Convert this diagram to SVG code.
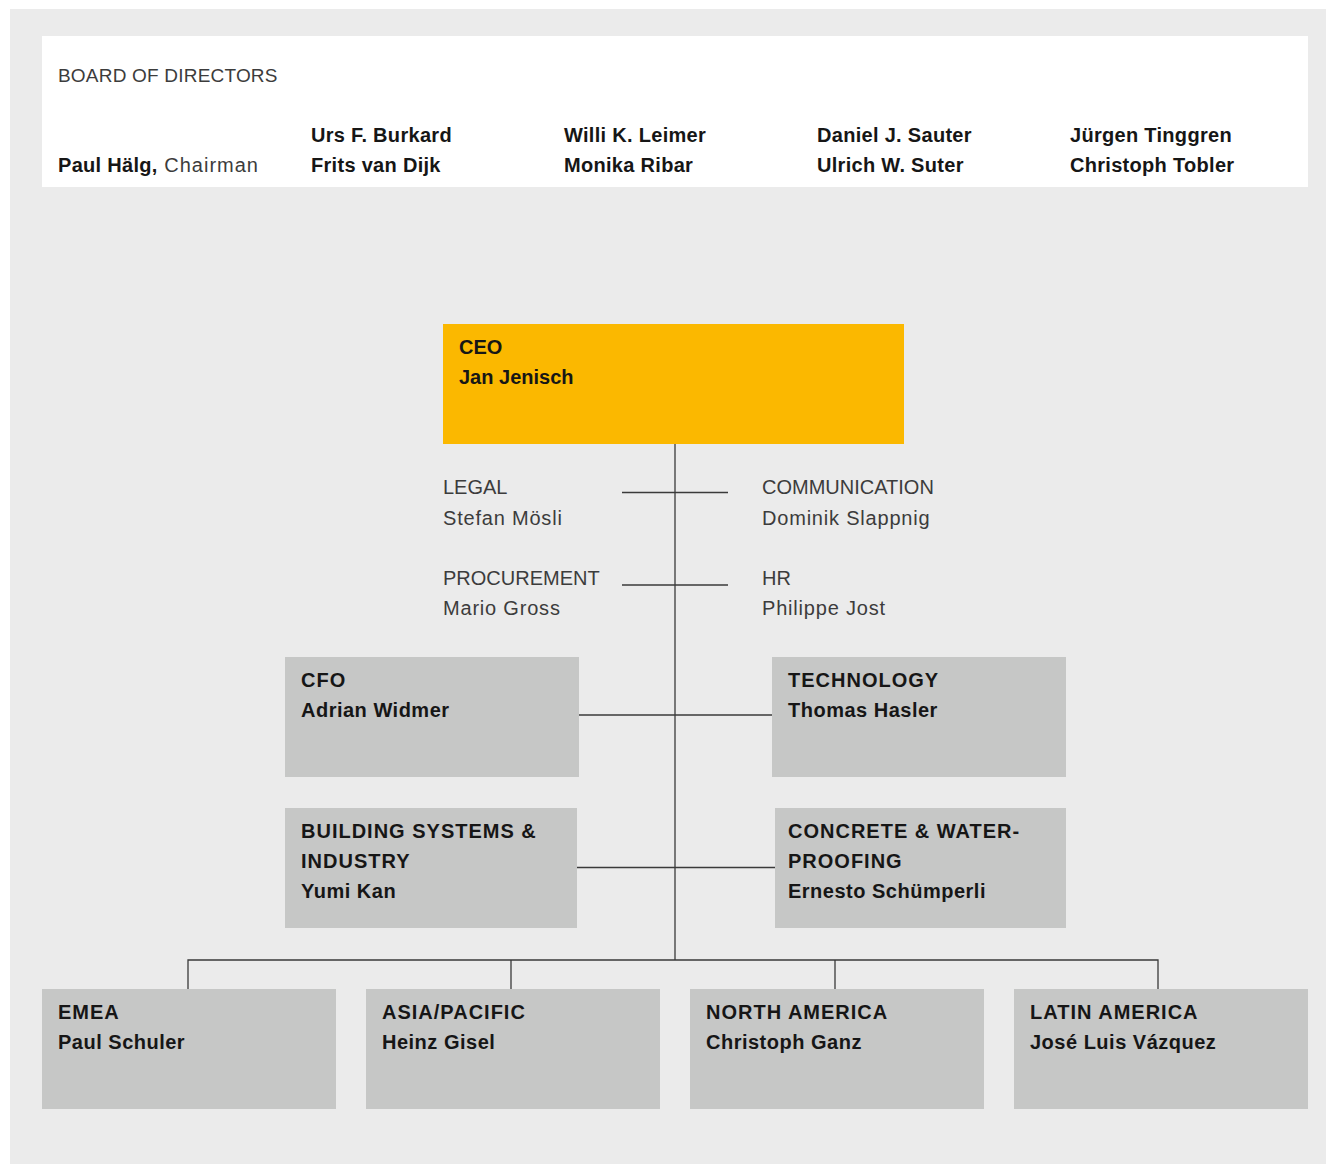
<svg xmlns="http://www.w3.org/2000/svg" width="1326" height="1164" viewBox="0 0 1326 1164">
<style>
text{font-family:"Liberation Sans","Noto Sans",Arial,sans-serif;font-size:20px}
.b{font-weight:bold;fill:#161616}
.l{fill:#3c3c3c}
.ln2{letter-spacing:0.8px}
.bn{letter-spacing:0.3px}
.t{letter-spacing:1px}
.n{letter-spacing:0.5px}
.box{fill:#c6c7c6}
.ln{stroke:#3a3a3a;stroke-width:1.3;fill:none}
</style>
<rect x="0" y="0" width="1326" height="1164" fill="#ffffff"/>
<rect x="10" y="9" width="1316" height="1155" fill="#ebebeb"/>
<g id="board">
<rect x="42" y="36" width="1266" height="151" fill="#ffffff"/>
<text x="58" y="82" class="l" style="font-size:19px;letter-spacing:0.2px">BOARD OF DIRECTORS</text>
<text x="58" y="172" class="b bn">Paul Hälg,<tspan class="l" style="font-weight:normal;letter-spacing:1px"> Chairman</tspan></text>
<text x="311" y="142" class="b bn">Urs F. Burkard</text>
<text x="311" y="172" class="b bn">Frits van Dijk</text>
<text x="564" y="142" class="b bn">Willi K. Leimer</text>
<text x="564" y="172" class="b bn">Monika Ribar</text>
<text x="817" y="142" class="b bn">Daniel J. Sauter</text>
<text x="817" y="172" class="b bn">Ulrich W. Suter</text>
<text x="1070" y="142" class="b bn">Jürgen Tinggren</text>
<text x="1070" y="172" class="b bn">Christoph Tobler</text>
</g>
<g id="connectors">
<line class="ln" x1="675" y1="444" x2="675" y2="960"/>
<line class="ln" x1="622" y1="492.5" x2="728" y2="492.5"/>
<line class="ln" x1="622" y1="585" x2="728" y2="585"/>
<line class="ln" x1="579" y1="715" x2="772" y2="715"/>
<line class="ln" x1="577" y1="867.5" x2="775" y2="867.5"/>
<polyline class="ln" points="188,989 188,960 1158,960 1158,989"/>
<line class="ln" x1="511" y1="960" x2="511" y2="989"/>
<line class="ln" x1="835" y1="960" x2="835" y2="989"/>
</g>
<g id="ceo">
<rect x="443" y="324" width="461" height="120" fill="#fbb800"/>
<text x="459" y="354" class="b">CEO</text>
<text x="459" y="384" class="b">Jan Jenisch</text>
</g>
<g id="legal">
<text x="443" y="494" class="l">LEGAL</text>
<text x="443" y="525" class="l ln2">Stefan Mösli</text>
</g>
<g id="communication">
<text x="762" y="494" class="l">COMMUNICATION</text>
<text x="762" y="525" class="l ln2">Dominik Slappnig</text>
</g>
<g id="procurement">
<text x="443" y="585" class="l">PROCUREMENT</text>
<text x="443" y="615" class="l ln2">Mario Gross</text>
</g>
<g id="hr">
<text x="762" y="585" class="l">HR</text>
<text x="762" y="615" class="l ln2">Philippe Jost</text>
</g>
<g id="cfo">
<rect class="box" x="285" y="657" width="294" height="120"/>
<text x="301" y="687" class="b t">CFO</text>
<text x="301" y="717" class="b n">Adrian Widmer</text>
</g>
<g id="technology">
<rect class="box" x="772" y="657" width="294" height="120"/>
<text x="788" y="687" class="b t">TECHNOLOGY</text>
<text x="788" y="717" class="b n">Thomas Hasler</text>
</g>
<g id="building">
<rect class="box" x="285" y="808" width="292" height="120"/>
<text x="301" y="838" class="b t">BUILDING SYSTEMS &amp;</text>
<text x="301" y="868" class="b t">INDUSTRY</text>
<text x="301" y="898" class="b n">Yumi Kan</text>
</g>
<g id="concrete">
<rect class="box" x="775" y="808" width="291" height="120"/>
<text x="788" y="838" class="b t">CONCRETE &amp; WATER-</text>
<text x="788" y="868" class="b t">PROOFING</text>
<text x="788" y="898" class="b n">Ernesto Schümperli</text>
</g>
<g id="emea">
<rect class="box" x="42" y="989" width="294" height="120"/>
<text x="58" y="1019" class="b t">EMEA</text>
<text x="58" y="1049" class="b n">Paul Schuler</text>
</g>
<g id="asia">
<rect class="box" x="366" y="989" width="294" height="120"/>
<text x="382" y="1019" class="b t">ASIA/PACIFIC</text>
<text x="382" y="1049" class="b n">Heinz Gisel</text>
</g>
<g id="northamerica">
<rect class="box" x="690" y="989" width="294" height="120"/>
<text x="706" y="1019" class="b t">NORTH AMERICA</text>
<text x="706" y="1049" class="b n">Christoph Ganz</text>
</g>
<g id="latinamerica">
<rect class="box" x="1014" y="989" width="294" height="120"/>
<text x="1030" y="1019" class="b t">LATIN AMERICA</text>
<text x="1030" y="1049" class="b n">José Luis Vázquez</text>
</g>
</svg>
